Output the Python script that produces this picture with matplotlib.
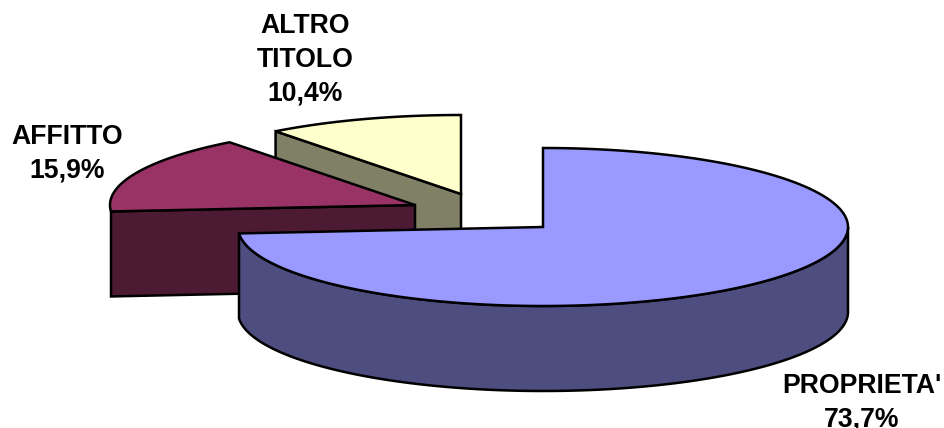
import numpy as np
import matplotlib
matplotlib.use("Agg")
import matplotlib.pyplot as plt
from matplotlib.patches import Polygon

labels = ["PROPRIETA'", "AFFITTO", "ALTRO\nTITOLO"]
values = [73.7, 15.9, 10.4]
value_text = ["73,7%", "15,9%", "10,4%"]

top_colors = ["#9999ff", "#993366", "#ffffcc"]
side_colors = ["#4d4d80", "#4d1a33", "#808066"]
centers = [(543, 227), (415, 205), (461, 194)]
label_pos = [(862, 403), (67, 154), (305, 60)]

rx, ry, depth = 305, 79, 85

plt.rcParams["font.family"] = ["Liberation Sans", "DejaVu Sans"]


def rim(cx, cy, a, b, n=200):
    t = np.radians(np.linspace(a, b, n))
    return np.column_stack([cx + rx * np.cos(t), cy - ry * np.sin(t)])


def down(pts):
    return pts + np.array([0, depth])


def face(ax, pts, color):
    ax.add_patch(Polygon(pts, closed=True, facecolor=color, edgecolor="black",
                         linewidth=1.8, joinstyle="miter"))


def draw_slice(ax, i, a, b):
    # a > b, going clockwise from a to b
    c = np.array(centers[i], dtype=float)
    arc = rim(c[0], c[1], a, b)
    if i == 0:
        # only the front half of the rim shows
        front = rim(c[0], c[1], a, 360)
        face(ax, np.vstack([front, down(front)[::-1]]), side_colors[i])
    else:
        # straight front wall, the wall's left edge hides the tiny bit of rim
        start = arc[0]
        face(ax, np.vstack([start, c, c + [0, depth], start + [0, depth]]), side_colors[i])
    face(ax, np.vstack([c, arc]), top_colors[i])


fig = plt.figure(figsize=(9.44, 4.28), dpi=100)
ax = fig.add_axes([0, 0, 1, 1])
ax.set_xlim(0, 944)
ax.set_ylim(428, 0)
ax.axis("off")

# angles from the values, clockwise from 12 o'clock
ends = np.cumsum(values) / sum(values) * 360
starts = np.concatenate([[0], ends[:-1]])

for i in [2, 1, 0]:
    a = 90 - starts[i]
    b = 90 - ends[i]
    # keep angles positive so the rim maths is easy
    if b < 0:
        a, b = (b + 360, a + 360) if i == 0 else (a + 360, b + 360)
    draw_slice(ax, i, a, b)

for i in range(3):
    ax.text(label_pos[i][0], label_pos[i][1], labels[i] + "\n" + value_text[i],
            ha="center", va="center", fontsize=19.2, fontweight="bold",
            color="black", linespacing=1.38)

fig.savefig("out.png", dpi=100)
